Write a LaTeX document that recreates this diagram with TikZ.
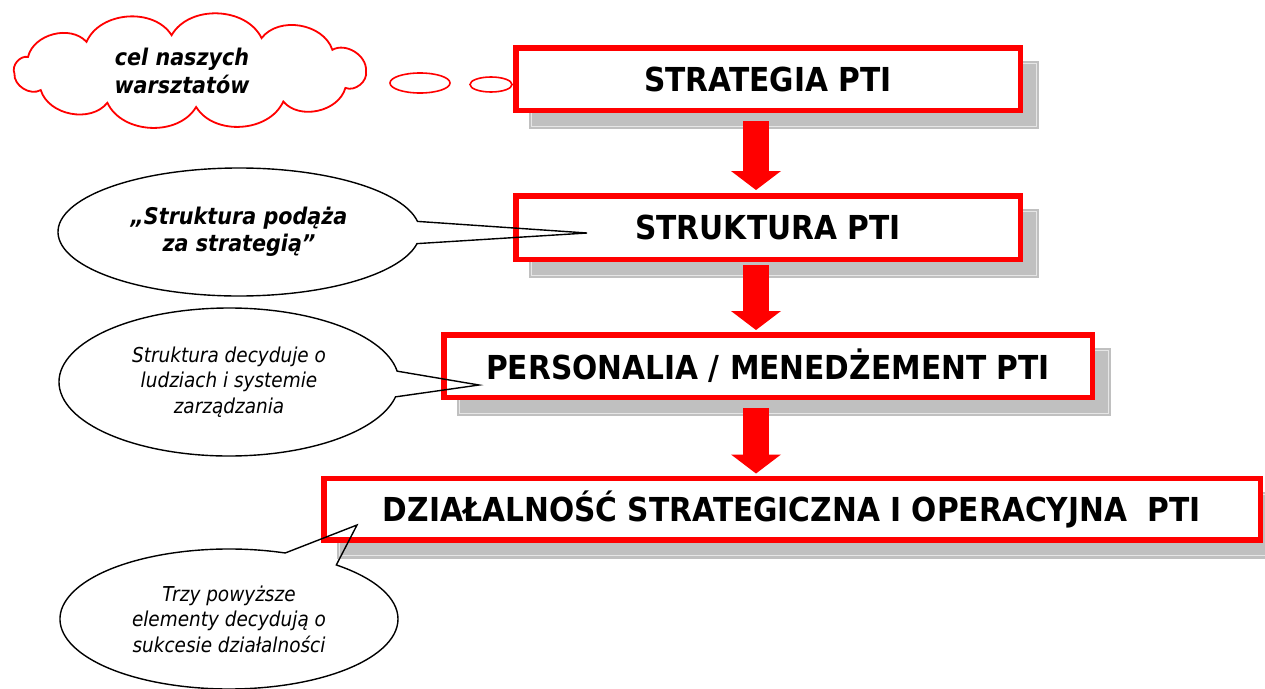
\documentclass[tikz,border=0pt]{standalone}
\usepackage{fontspec}
\setmainfont{DejaVu Sans}
\newfontfamily\pptfont[FakeStretch=0.9]{DejaVu Sans}
\usetikzlibrary{shapes.callouts,shapes.geometric,shadows,arrows.meta}

\definecolor{pptred}{RGB}{255,0,0}
\definecolor{shadowgray}{RGB}{192,192,192}
\definecolor{shadowline}{RGB}{230,230,230}

\tikzset{
  stage/.style={draw=pptred, line width=5.5pt, fill=white, inner sep=0pt,
    font=\pptfont\bfseries\fontsize{33}{40}\selectfont,
    drop shadow={shadow xshift=16pt, shadow yshift=-16pt, opacity=1,
      fill=shadowgray, draw=shadowgray, line width=2.25pt,
      double=shadowline, double distance=1pt}},
  flow/.style={pptred, line width=26pt,
    -{Triangle[width=50pt,length=19pt,line width=0pt]}},
  note/.style={draw=black, line width=1.4pt, ellipse callout,
    callout pointer arc=20, align=center, inner sep=0pt,
    font=\pptfont\itshape\fontsize{20.5}{25.5}\selectfont},
  bignote/.style={note, font=\pptfont\bfseries\itshape\fontsize{23}{27}\selectfont},
  thought/.style={draw=pptred, line width=1.6pt, ellipse, inner sep=0pt},
  puff/.style={pptred, line width=1.8pt}
}

\begin{document}
\begin{tikzpicture}[x=1pt,y=-1pt]
\useasboundingbox (0,0) rectangle (1265,688);

% the four levels
\node[stage, minimum width=504.5pt, minimum height=62.5pt] (strat) at (768,79) {STRATEGIA PTI};
\node[stage, minimum width=504.5pt, minimum height=63.5pt] (strukt) at (768,227.5) {STRUKTURA PTI};
\node[stage, minimum width=648.5pt, minimum height=62.5pt] (pers) at (768,366) {PERSONALIA / MENEDŻEMENT PTI};
\node[stage, minimum width=936.5pt, minimum height=61.5pt] (dzial) at (792,509) {DZIAŁALNOŚĆ STRATEGICZNA I OPERACYJNA\ \ PTI};

\coordinate (ax) at (756,0);
\draw[flow] ([yshift=-8pt]strat.south -| ax) -- ([yshift=3pt]strukt.north -| ax);
\draw[flow] ([yshift=-3pt]strukt.south -| ax) -- ([yshift=2pt]pers.north -| ax);
\draw[flow] ([yshift=-8pt]pers.south -| ax) -- ([yshift=2pt]dzial.north -| ax);

% cloud with thought bubbles
\node[align=center, inner sep=0pt,
  font=\pptfont\bfseries\itshape\fontsize{23}{28}\selectfont] (goal) at (182,71) {cel naszych\\warsztatów};
\begin{scope}[shift={(190,71)}]
\draw[puff] (0:176 and 36) \foreach \a in {28,58,88,118,148,176,203,234,264,294,324,360} { to[bend left=62] (\a:176 and 36) };
\end{scope}
\node[thought, minimum width=60pt, minimum height=20pt] (bubblea) at (420,83) {};
\node[thought, minimum width=42pt, minimum height=15pt] (bubbleb) at (491,84.5) {};

% callouts
\coordinate (tipa) at (587,233);
\coordinate (tipb) at (479,385);
\coordinate (tipc) at (357,525);
\node[bignote, minimum width=362pt, minimum height=128pt, callout absolute pointer={(tipa)}] (quote) at (239,232) {„Struktura podąża\\za strategią”};
\node[note, minimum width=340pt, minimum height=148pt, callout absolute pointer={(tipb)}] (people) at (229,382) {Struktura decyduje o\\ludziach i systemie\\zarządzania};
\node[note, minimum width=338pt, minimum height=140pt, callout absolute pointer={(tipc)}] (success) at (229,619) {Trzy powyższe\\elementy decydują o\\sukcesie działalności};
\end{tikzpicture}
\end{document}
